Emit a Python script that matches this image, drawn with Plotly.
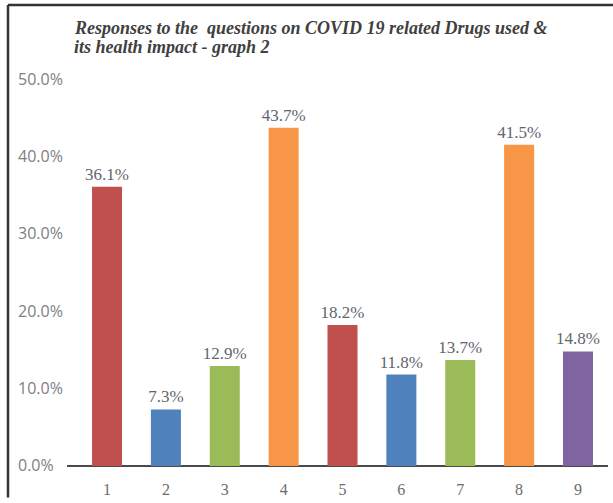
import plotly.graph_objects as go

# Survey question numbers and share of respondents (%)
categories = ["1", "2", "3", "4", "5", "6", "7", "8", "9"]
values = [36.1, 7.3, 12.9, 43.7, 18.2, 11.8, 13.7, 41.5, 14.8]
bar_colors = ["#C0504D", "#4F81BD", "#9BBB59", "#F79646",
              "#C0504D", "#4F81BD", "#9BBB59", "#F79646", "#8064A2"]
y_ticks = [0, 10, 20, 30, 40, 50]
y_tick_labels = ["0.0%", "10.0%", "20.0%", "30.0%", "40.0%", "50.0%"]
title_lines = ["Responses to the  questions on COVID 19 related Drugs used &",
               "its health impact - graph 2"]

W, H = 613, 503
ZERO_PX, TOP_PX = 471, 79          # pixel rows of 0% and 50%
Y_MIN, Y_MAX = -2.6, 52.6          # padded so edge tick labels stay visible
PX_PER_UNIT = (ZERO_PX - TOP_PX) / 50.0
T = TOP_PX - (Y_MAX - 50) * PX_PER_UNIT
B = (H - ZERO_PX) + Y_MIN * PX_PER_UNIT
L, R = 14, 5
PLOT_W = W - L - R
PLOT_H = H - T - B
AXIS_LEFT_PX = 67


def px_to_paper_x(px):
    return (px - L) / PLOT_W


def px_to_paper_y(py):
    return (H - B - py) / PLOT_H


fig = go.Figure(
    go.Bar(
        x=list(range(1, len(categories) + 1)),
        y=values,
        marker=dict(color=bar_colors, line=dict(width=0)),
        width=0.51,
        text=[f"{v:.1f}%" for v in values],
        textposition="outside",
        constraintext="none",
        cliponaxis=False,
        textfont=dict(family="Liberation Serif, serif", size=17, color="#5f6670"),
    )
)

# frame around the chart area (top and left edges)
fig.add_shape(type="line", xref="paper", yref="paper",
              x0=px_to_paper_x(8), x1=px_to_paper_x(613),
              y0=px_to_paper_y(4), y1=px_to_paper_y(4),
              line=dict(color="#333333", width=2.5))
fig.add_shape(type="line", xref="paper", yref="paper",
              x0=px_to_paper_x(8), x1=px_to_paper_x(8),
              y0=px_to_paper_y(4), y1=px_to_paper_y(503),
              line=dict(color="#333333", width=2.5))

# two-line bold italic title
for i, line in enumerate(title_lines):
    fig.add_annotation(
        text=f"<b><i>{line}</i></b>", xref="paper", yref="paper",
        x=px_to_paper_x(72), y=px_to_paper_y(15 + 19 * i),
        xanchor="left", yanchor="top", align="left", showarrow=False,
        font=dict(family="Liberation Serif, serif", size=18, color="#404040"),
    )

fig.update_layout(
    width=W, height=H,
    margin=dict(l=L, r=R, t=T, b=B),
    paper_bgcolor="white", plot_bgcolor="white",
    showlegend=False,
    xaxis=dict(
        domain=[px_to_paper_x(AXIS_LEFT_PX), 1],
        range=[0.32, 9.51],
        tickvals=list(range(1, len(categories) + 1)),
        ticktext=categories,
        showgrid=False, zeroline=False, showline=False,
        ticks="", ticklabelstandoff=-8,
        tickfont=dict(family="Liberation Serif, serif", size=16, color="#6b6b6b"),
    ),
    yaxis=dict(
        anchor="free", position=0,
        range=[Y_MIN, Y_MAX],
        tickvals=y_ticks, ticktext=y_tick_labels,
        ticklabelposition="inside",
        showgrid=False, showline=False,
        zeroline=True, zerolinecolor="#4a4a4a", zerolinewidth=1.5,
        ticks="",
        tickfont=dict(family="Open Sans, sans-serif", size=16, color="#808080"),
    ),
)

fig.write_html("out.html")
